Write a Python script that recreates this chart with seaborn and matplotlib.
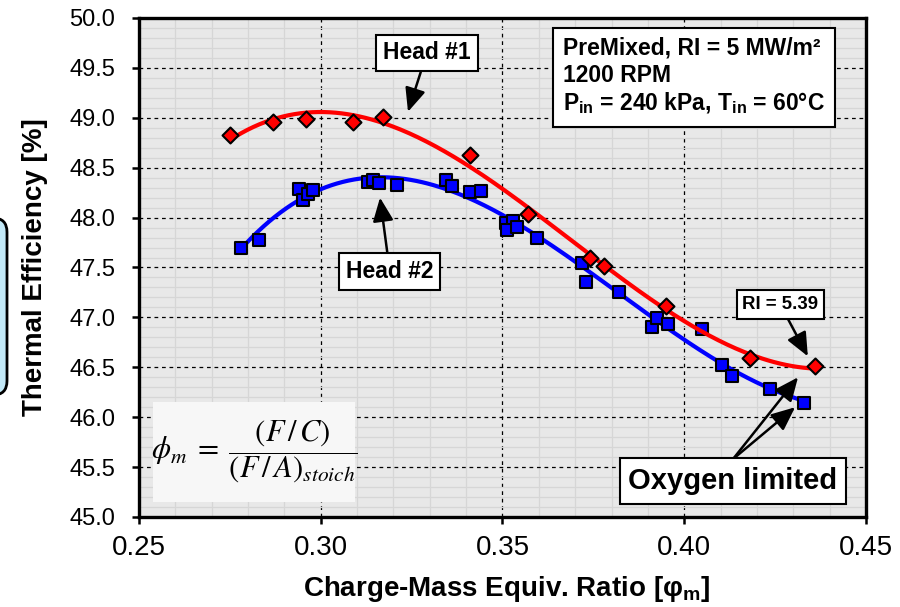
import matplotlib

matplotlib.use("Agg")
import matplotlib.pyplot as plt
from matplotlib.patches import FancyBboxPatch, Rectangle
from matplotlib.ticker import MultipleLocator
from matplotlib.transforms import IdentityTransform
import numpy as np
import pandas as pd
import seaborn as sns

# Head #1 (red diamonds)
HEAD1_PHI = [0.275, 0.287, 0.296, 0.309, 0.317, 0.341, 0.357, 0.374, 0.378, 0.395, 0.418, 0.436]
HEAD1_EFF = [48.83, 48.96, 48.99, 48.96, 49.01, 48.63, 48.04, 47.60, 47.52, 47.11, 46.59, 46.51]

# Head #2 (blue squares)
HEAD2_PHI = [0.278, 0.283, 0.294, 0.295, 0.2965, 0.298, 0.313, 0.3145, 0.316, 0.321,
             0.3345, 0.336, 0.341, 0.344, 0.351, 0.353, 0.3512, 0.354, 0.3595, 0.372,
             0.373, 0.382, 0.391, 0.3925, 0.3955, 0.405, 0.4105, 0.413, 0.4235, 0.433]
HEAD2_EFF = [47.70, 47.78, 48.29, 48.18, 48.24, 48.28, 48.36, 48.38, 48.35, 48.33,
             48.38, 48.32, 48.26, 48.27, 47.95, 47.97, 47.88, 47.91, 47.80, 47.55,
             47.35, 47.25, 46.90, 46.99, 46.93, 46.88, 46.52, 46.41, 46.28, 46.14]

X_TICKS = [0.25, 0.30, 0.35, 0.40, 0.45]
X_LABELS = ["0.25", "0.30", "0.35", "0.40", "0.45"]
Y_TICKS = [45.0, 45.5, 46.0, 46.5, 47.0, 47.5, 48.0, 48.5, 49.0, 49.5, 50.0]
Y_LABELS = ["45.0", "45.5", "46.0", "46.5", "47.0", "47.5", "48.0", "48.5", "49.0", "49.5", "50.0"]


def trendline(x, y, deg=3):
    # polynomial trendline through the measured points, like the original
    coef = np.polyfit(x, y, deg)
    xs = np.linspace(min(x), max(x), 200)
    return pd.DataFrame({"phi": xs, "eff": np.polyval(coef, xs)})


sns.set_theme(style="ticks")
plt.rcParams.update({
    "font.family": ["Liberation Sans", "DejaVu Sans"],
    "text.color": "black",
    "axes.labelcolor": "black",
    "xtick.color": "black",
    "ytick.color": "black",
    "mathtext.fontset": "custom",
    "mathtext.rm": "Liberation Sans:bold",
    "mathtext.bf": "Liberation Sans:bold",
    "mathtext.it": "Liberation Sans:italic:bold",
})

fig = plt.figure(figsize=(9, 6.07), dpi=100)
ax = fig.add_axes([139 / 900, 1 - 517 / 607, 727 / 900, 499 / 607])
ax.set_facecolor("#e8e8e8")
ax.set_axisbelow(True)

ax.xaxis.set_minor_locator(MultipleLocator(0.01))
ax.yaxis.set_minor_locator(MultipleLocator(0.1))
ax.grid(which="minor", color="#d6d6d6", lw=0.9, ls="-")
ax.grid(which="major", color="black", lw=0.9, ls=(0, (3, 3)))

sns.lineplot(data=trendline(HEAD2_PHI, HEAD2_EFF), x="phi", y="eff", color="#0000ff",
             lw=3, estimator=None, ax=ax, zorder=3)
sns.scatterplot(x=HEAD2_PHI, y=HEAD2_EFF, marker="s", s=75, color="#0000ff",
                edgecolor="black", linewidth=1.5, ax=ax, zorder=4)
sns.lineplot(data=trendline(HEAD1_PHI, HEAD1_EFF), x="phi", y="eff", color="#ff0000",
             lw=3, estimator=None, ax=ax, zorder=5)
sns.scatterplot(x=HEAD1_PHI, y=HEAD1_EFF, marker="D", s=66, color="#ff0000",
                edgecolor="black", linewidth=1.5, ax=ax, zorder=6)

ax.set_xlim(0.25, 0.45)
ax.set_ylim(45.0, 50.0)
ax.set_xticks(X_TICKS, labels=X_LABELS)
ax.set_yticks(Y_TICKS, labels=Y_LABELS)
ax.tick_params(which="major", direction="out", length=5, width=1.8, color="black")
ax.tick_params(which="minor", length=0)
ax.tick_params(axis="x", labelsize=20, pad=8)
ax.tick_params(axis="y", labelsize=17, pad=12)
for side in ax.spines.values():
    side.set_visible(True)
    side.set_color("black")
    side.set_linewidth(2.4)

ax.set_xlabel(r"Charge-Mass Equiv. Ratio [$\mathrm{\varphi_m}$]", fontsize=20, fontweight="bold")
ax.set_ylabel("Thermal Efficiency [%]", fontsize=20, fontweight="bold")
ax.xaxis.set_label_coords(0.505, -0.115)
ax.yaxis.set_label_coords(-0.125, 0.5)

box = dict(boxstyle="square,pad=0.3", fc="white", ec="black", lw=1.5)
arrow = dict(arrowstyle="-|>,head_length=0.8,head_width=0.35", color="black", lw=1.8,
             mutation_scale=18, shrinkA=0, shrinkB=0)

ax.annotate("Head #1", xy=(0.3240, 49.06), xytext=(0.3292, 49.65), ha="center", va="center",
            fontsize=16.5, fontweight="bold", bbox=box, arrowprops=arrow, zorder=8)
ax.annotate("Head #2", xy=(0.3163, 48.20), xytext=(0.3190, 47.46), ha="center", va="center",
            fontsize=16.5, fontweight="bold", bbox=box, arrowprops=arrow, zorder=8)
ax.annotate("RI = 5.39", xy=(0.4340, 46.61), xytext=(0.4264, 47.13), ha="center", va="center",
            fontsize=13.4, fontweight="bold", bbox=box, arrowprops=arrow, zorder=8)
for tip in [(0.4313, 46.40), (0.4305, 46.10)]:
    ax.annotate("", xy=tip, xytext=(0.4134, 45.58), arrowprops=arrow, zorder=7)
ax.text(0.4134, 45.36, "Oxygen limited", ha="center", va="center", fontsize=21,
        fontweight="bold", bbox=box, zorder=9)

info = ("PreMixed, RI = 5 MW/m\u00b2\n1200 RPM\n"
        r"$\mathrm{P_{in}}$ = 240 kPa, $\mathrm{T_{in}}$ = 60" + "\u00b0C")
ax.text(0.583, 0.962, info, transform=ax.transAxes, ha="left", va="top", fontsize=16.5,
        fontweight="bold", linespacing=1.2,
        bbox=dict(boxstyle="square,pad=0.45", fc="white", ec="black", lw=1.5), zorder=9)

ax.add_patch(Rectangle((0.019, 0.030), 0.278, 0.200, transform=ax.transAxes,
                       fc="#f7f7f7", ec="none", zorder=7))
ax.text(0.158, 0.13, r"$\phi_m\;=\;\dfrac{(F\,/\,C)}{(F\,/\,A)_{stoich}}$", math_fontfamily="stix",
        transform=ax.transAxes, ha="center", va="center", fontsize=22, zorder=8)

# clipped callout box at the left figure edge
fig.add_artist(FancyBboxPatch((-40, 607 - 395), 47, 177, boxstyle="round,pad=0,rounding_size=14",
                              transform=IdentityTransform(), fc="#c2e8f7", ec="black", lw=2))

fig.savefig("out.png", dpi=100)
